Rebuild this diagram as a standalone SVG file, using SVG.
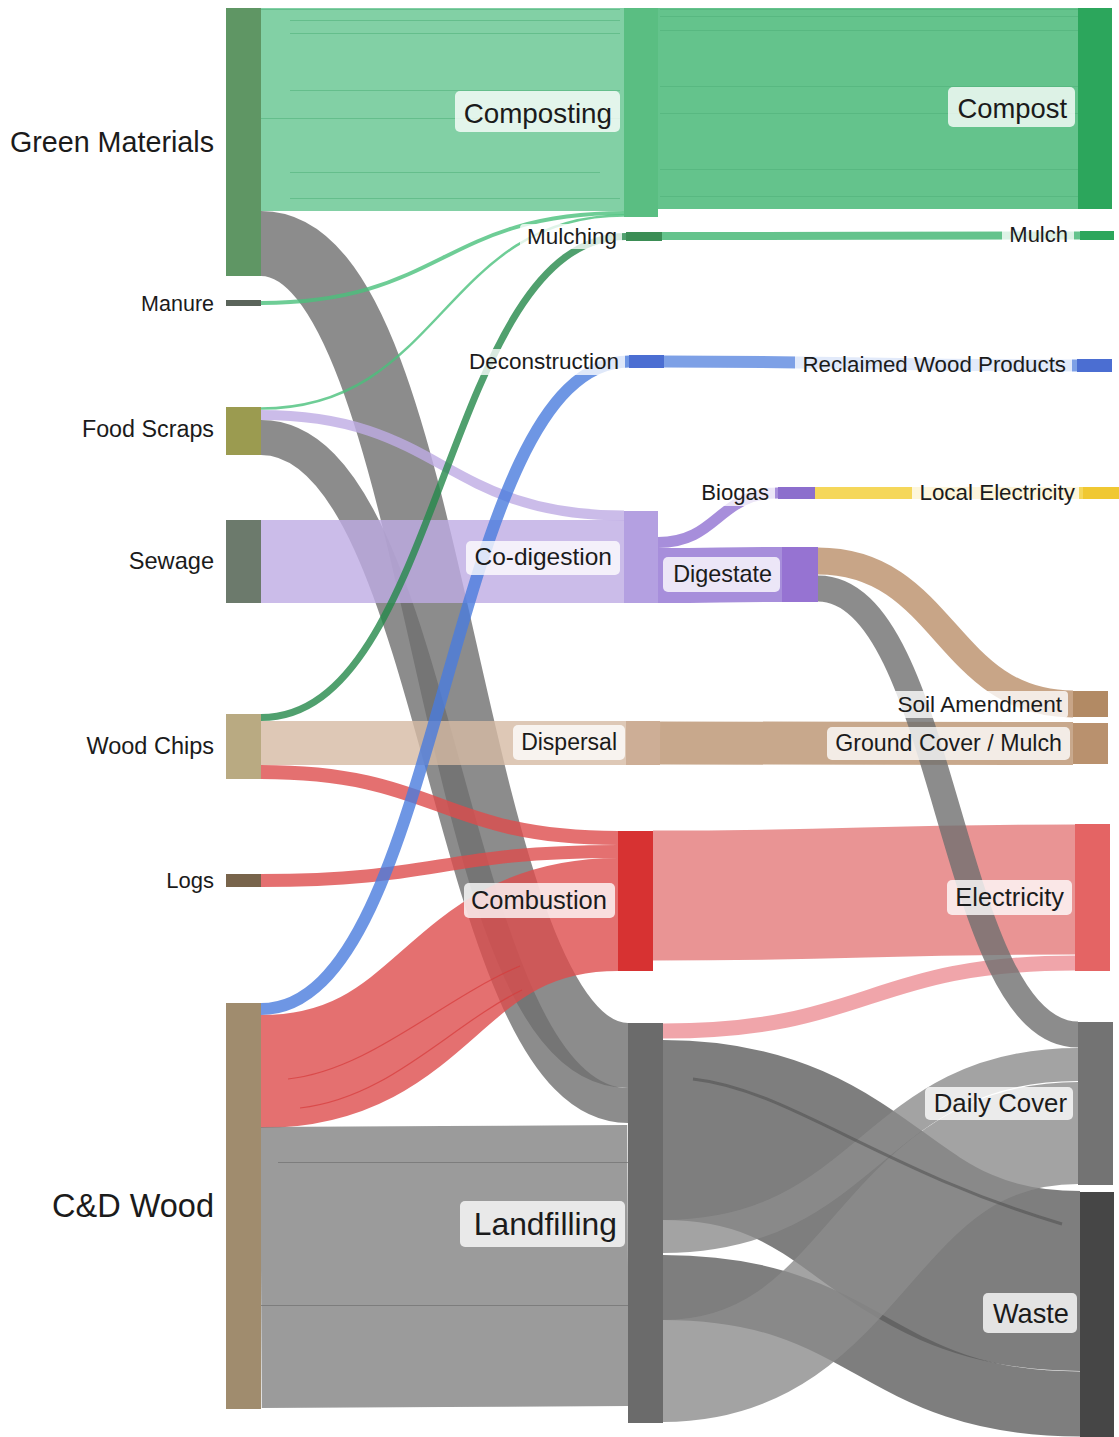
<svg xmlns="http://www.w3.org/2000/svg" width="1119" height="1437" viewBox="0 0 1119 1437">
<style>
text { font-family: "Liberation Sans", Arial, Helvetica, sans-serif; fill: #1b1b1b; text-anchor: end; }
.lb { fill: #ffffff; fill-opacity: 0.78; }
.lk { fill: none; stroke-opacity: 0.8; }
.sub { fill: none; stroke-width: 1.2; }
.grn { stroke: #63c48e; }
.grn2 { stroke: #3db46f; }
.grnt { stroke: #4ac17c; }
.grnd { stroke: #24884a; }
.gry { stroke: #6f6f6f; }
.gryc { stroke: #828282; }
.gryw { stroke: #5e5e5e; }
.gryd { stroke: #8c8c8c; }
.pur { stroke: #beabe4; }
.purd { stroke: #9172d2; }
.blu { stroke: #4a7cdd; }
.blu2 { stroke: #5c88e0; }
.yel { stroke: #f3cd31; }
.tan { stroke: #ba8f69; }
.dsl { stroke: #d6baa4; }
.dsr { stroke: #ba926f; }
.red { stroke: #dd4c4c; }
.ele { stroke: #e37979; }
.pnk { stroke: #ec8e95; }
</style>
<rect x="0" y="0" width="1119" height="1437" fill="#ffffff"/>

<g id="links">
  <path class="lk grn" stroke-width="203" d="M261,109.5 H624"/>
  <path class="lk gry" stroke-width="65" d="M261,243.5 C444.5,243.5 444.5,1055.5 628,1055.5"/>
  <path class="lk grnt" stroke-width="4" d="M261,303 C442.5,303 442.5,213 624,213"/>
  <path class="lk grnt" stroke-width="2.5" d="M261,408.5 C442.5,408.5 442.5,215.5 624,215.5"/>
  <path class="lk pur" stroke-width="10" d="M261,415 C442.5,415 442.5,515.5 624,515.5"/>
  <path class="lk gry" stroke-width="35" d="M261,437.5 C444.5,437.5 444.5,1105.5 628,1105.5"/>
  <path class="lk pur" stroke-width="83" d="M261,561.5 H624"/>
  <path class="lk grnd" stroke-width="7" d="M261,717.5 C443.5,717.5 443.5,236.5 626,236.5"/>
  <path class="lk dsl" stroke-width="44" d="M261,743 H626"/>
  <path class="lk red" stroke-width="14" d="M261,772 C439.5,772 439.5,838 618,838"/>
  <path class="lk red" stroke-width="13" d="M261,880.5 C439.5,880.5 439.5,851.5 618,851.5"/>
  <path class="lk blu" stroke-width="12" d="M261,1009 C445,1009 445,361.5 629,361.5"/>
  <path class="lk red" stroke-width="113" d="M261,1071.5 C439.5,1071.5 439.5,914.5 618,914.5"/>
  <path class="lk gryc" stroke-width="281" d="M261,1267.5 C444.5,1267.5 444.5,1265.5 628,1265.5"/>
  <path class="lk grn2" stroke-width="201" d="M658,108.5 H1078"/>
  <path class="lk grn2" stroke-width="8" d="M662,236 C871,236 871,235.5 1080,235.5"/>
  <path class="lk blu2" stroke-width="12" d="M664,361.5 C870.5,361.5 870.5,365.5 1077,365.5"/>
  <path class="lk purd" stroke-width="11" d="M658,542.5 C718,542.5 718,493 778,493"/>
  <path class="lk purd" stroke-width="55" d="M658,575.5 C720,575.5 720,574.5 782,574.5"/>
  <path class="lk dsr" stroke-width="43" d="M660,743 C866.5,743 866.5,743.5 1073,743.5"/>
  <path class="lk ele" stroke-width="130" d="M653,895.5 C864,895.5 864,889.5 1075,889.5"/>
  <path class="lk pnk" stroke-width="15" d="M663,1031 C869,1031 869,963 1075,963"/>
  <path class="lk gryw" stroke-width="180" d="M663,1130 C871.5,1130 871.5,1281 1080,1281"/>
  <path class="lk gryd" stroke-width="33" d="M663,1236.5 C870.5,1236.5 870.5,1064.5 1078,1064.5"/>
  <path class="lk gryw" stroke-width="65" d="M663,1287.5 C871.5,1287.5 871.5,1404 1080,1404"/>
  <path class="lk gryd" stroke-width="102" d="M663,1371 C870.5,1371 870.5,1133 1078,1133"/>
  <path class="lk yel" stroke-width="12" d="M815,493 H1083"/>
  <path class="lk tan" stroke-width="27" d="M818,561 C945.5,561 945.5,704 1073,704"/>
  <path class="lk gry" stroke-width="26" d="M818,588.5 C948,588.5 948,1034.5 1078,1034.5"/>
  <g stroke="#4fae78" stroke-opacity="0.55">
    <path class="sub" d="M261,9.5 H620"/>
    <path class="sub" d="M290,20.5 H620"/>
    <path class="sub" d="M290,33.5 H620"/>
    <path class="sub" d="M290,90.5 H620"/>
    <path class="sub" d="M261,118.5 H620"/>
    <path class="sub" d="M290,172.5 H600"/>
    <path class="sub" d="M290,198.5 H620"/>
    <path class="sub" d="M660,9.5 H1078"/>
    <path class="sub" d="M660,16.5 H1078"/>
    <path class="sub" d="M660,30.5 H1078"/>
    <path class="sub" d="M660,86.5 H1078"/>
    <path class="sub" d="M660,113.5 H1078"/>
    <path class="sub" d="M660,169.5 H1078"/>
    <path class="sub" d="M660,196.5 H1078"/>
  </g>
  <g stroke="#707070" stroke-opacity="0.7">
    <path class="sub" d="M278,1162.5 H628"/>
    <path class="sub" d="M261,1305.5 H628"/>
  </g>
  <g stroke="#d63a3a" stroke-opacity="0.7">
    <path class="sub" stroke-width="1.6" d="M288,1079 C370,1070 440,1000 520,966"/>
    <path class="sub" stroke-width="1.6" d="M300,1108 C390,1098 450,1025 522,990"/>
  </g>
  <path fill="none" stroke="#4a4a4a" stroke-opacity="0.5" stroke-width="3" d="M693,1079 C790,1090 880,1170 1062,1224"/>
</g>

<g id="node-green-materials">
  <rect x="226" y="8" width="35" height="268" fill="#5f9664"/>
  <text x="214" y="152" font-size="28.7">Green Materials</text>
</g>
<g id="node-manure">
  <rect x="226" y="300" width="35" height="6" fill="#5a645a"/>
  <text x="214" y="311" font-size="21.5">Manure</text>
</g>
<g id="node-food-scraps">
  <rect x="226" y="407" width="35" height="48" fill="#9b9b50"/>
  <text x="214" y="437" font-size="23.3">Food Scraps</text>
</g>
<g id="node-sewage">
  <rect x="226" y="520" width="35" height="83" fill="#6c7a6c"/>
  <text x="214" y="569" font-size="23.6">Sewage</text>
</g>
<g id="node-wood-chips">
  <rect x="226" y="714" width="35" height="65" fill="#b9aa82"/>
  <text x="214" y="754" font-size="23.5">Wood Chips</text>
</g>
<g id="node-logs">
  <rect x="226" y="874" width="35" height="13" fill="#78644b"/>
  <text x="214" y="888" font-size="22">Logs</text>
</g>
<g id="node-cd-wood">
  <rect x="226" y="1003" width="35" height="406" fill="#a08c6e"/>
  <text x="214" y="1217" font-size="32.5">C&amp;D Wood</text>
</g>

<g id="node-composting">
  <rect x="624" y="8" width="34" height="209" fill="#5abe82"/>
  <rect class="lb" x="455" y="91" width="165" height="41" rx="5"/>
  <text x="612" y="123" font-size="27.8">Composting</text>
</g>
<g id="node-mulching">
  <rect x="626" y="232" width="36" height="9" fill="#3b8d55"/>
  <rect class="lb" x="520" y="224" width="102" height="25" rx="4"/>
  <text x="617" y="244" font-size="22.5">Mulching</text>
</g>
<g id="node-deconstruction">
  <rect x="629" y="355" width="35" height="13" fill="#4b6ed2"/>
  <rect class="lb" x="463" y="349" width="162" height="26" rx="4"/>
  <text x="619" y="369" font-size="22.5">Deconstruction</text>
</g>
<g id="node-co-digestion">
  <rect x="624" y="511" width="34" height="92" fill="#b4a0e1"/>
  <rect class="lb" x="466" y="541" width="154" height="34" rx="5"/>
  <text x="612" y="565" font-size="24.5">Co-digestion</text>
</g>
<g id="node-dispersal">
  <rect x="626" y="721" width="34" height="44" fill="#cdae96"/>
  <rect class="lb" x="513" y="725" width="112" height="35" rx="5"/>
  <text x="617" y="750" font-size="23">Dispersal</text>
</g>
<g id="node-combustion">
  <rect x="618" y="831" width="35" height="140" fill="#d73232"/>
  <rect class="lb" x="464" y="883" width="151" height="35" rx="5"/>
  <text x="607" y="909" font-size="25.5">Combustion</text>
</g>
<g id="node-landfilling">
  <rect x="628" y="1023" width="35" height="400" fill="#6b6b6b"/>
  <rect class="lb" x="460" y="1201" width="165" height="46" rx="5"/>
  <text x="617" y="1235" font-size="31.8">Landfilling</text>
</g>

<g id="node-biogas">
  <rect x="778" y="487" width="37" height="12" fill="#8c6ecd"/>
  <rect class="lb" x="695" y="480" width="80" height="26" rx="4"/>
  <text x="769" y="500" font-size="22.2">Biogas</text>
</g>
<g id="node-digestate">
  <rect x="782" y="547" width="36" height="55" fill="#9673d2"/>
  <rect class="lb" x="663" y="557" width="117" height="35" rx="5"/>
  <text x="772" y="582" font-size="23.4">Digestate</text>
</g>

<g id="node-compost">
  <rect x="1078" y="8" width="34" height="201" fill="#2ca65c"/>
  <rect class="lb" x="948" y="87" width="127" height="40" rx="5"/>
  <text x="1067" y="117.5" font-size="27.4">Compost</text>
</g>
<g id="node-mulch">
  <rect x="1080" y="231" width="34" height="9" fill="#2ca65c"/>
  <rect class="lb" x="1002" y="224" width="72" height="25" rx="4"/>
  <text x="1068" y="242" font-size="22">Mulch</text>
</g>
<g id="node-reclaimed-wood-products">
  <rect x="1077" y="359" width="35" height="13" fill="#4b6ed2"/>
  <rect class="lb" x="795" y="352" width="277" height="26" rx="4"/>
  <text x="1066" y="372" font-size="22.3">Reclaimed Wood Products</text>
</g>
<g id="node-local-electricity">
  <rect x="1083" y="487" width="36" height="12" fill="#f0c832"/>
  <rect class="lb" x="912" y="480" width="167" height="26" rx="4"/>
  <text x="1075" y="500" font-size="22.4">Local Electricity</text>
</g>
<g id="node-soil-amendment">
  <rect x="1073" y="691" width="35" height="26" fill="#b28a64"/>
  <rect class="lb" x="889" y="691" width="179" height="27" rx="4"/>
  <text x="1062" y="712" font-size="22.6">Soil Amendment</text>
</g>
<g id="node-ground-cover">
  <rect x="1073" y="723" width="35" height="41" fill="#b9916e"/>
  <rect class="lb" x="827" y="727" width="243" height="33" rx="5"/>
  <text x="1062" y="751" font-size="23.2">Ground Cover / Mulch</text>
</g>
<g id="node-electricity">
  <rect x="1075" y="824" width="35" height="147" fill="#e46464"/>
  <rect class="lb" x="947" y="880" width="125" height="35" rx="5"/>
  <text x="1064" y="906" font-size="25.4">Electricity</text>
</g>
<g id="node-daily-cover">
  <rect x="1078" y="1022" width="35" height="163" fill="#737373"/>
  <rect class="lb" x="925" y="1087" width="148" height="33" rx="5"/>
  <text x="1067" y="1112" font-size="25.8">Daily Cover</text>
</g>
<g id="node-waste">
  <rect x="1080" y="1192" width="34" height="245" fill="#464646"/>
  <rect class="lb" x="983" y="1293" width="94" height="40" rx="5"/>
  <text x="1069" y="1323" font-size="27.2">Waste</text>
</g>
</svg>
